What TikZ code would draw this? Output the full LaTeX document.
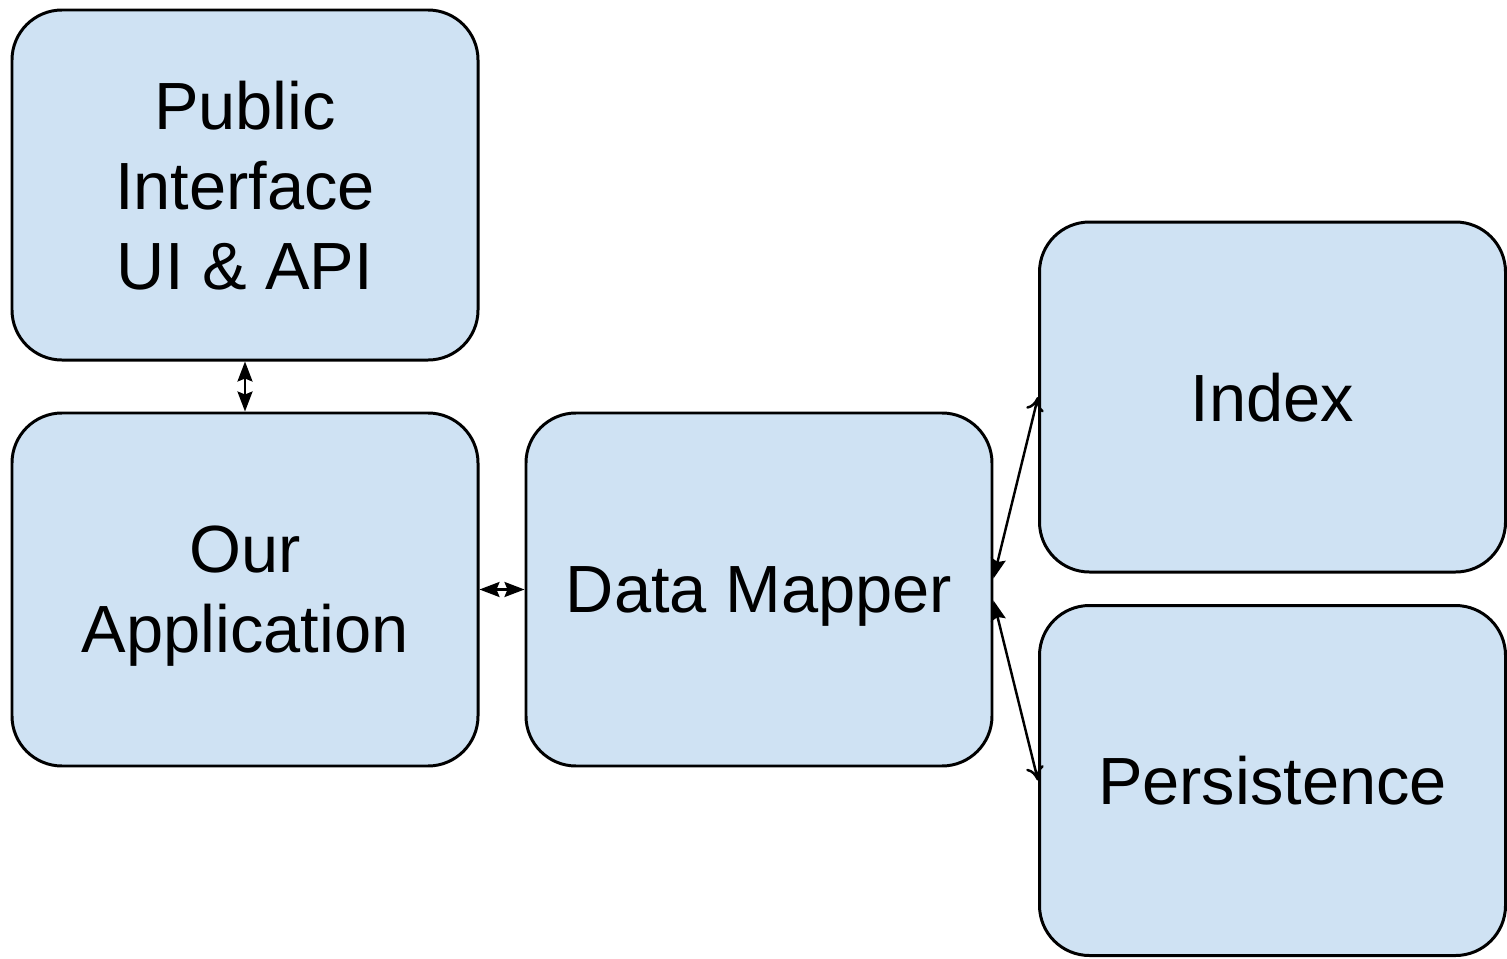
\documentclass[tikz,border=0pt]{standalone}
\usepackage{fontspec}
\setmainfont{Liberation Sans}
\usepackage{tikz}
\usetikzlibrary{positioning,arrows.meta}

\definecolor{boxblue}{HTML}{CFE2F3}

\begin{document}
\begin{tikzpicture}[node distance=0.5cm]
    \tikzstyle{block} = [rectangle, rounded corners=0.5cm, minimum width=4.66cm, minimum height=3.5cm, text depth=0pt, align=center, draw=black, line width=0.85pt, fill=boxblue, font=\fontsize{19}{22.8}\selectfont]
    \tikzstyle{link} = [line width=0.7pt, >={Stealth[length=2mm,width=1.5mm,inset=0.3mm]}]
    \useasboundingbox (0,0) rectangle (15.07,-9.58);

    \node (pub) [block] at (2.45,-1.85) {Public\\Interface\\UI \& API};
    \node (app) [block, below=0.5cm of pub, minimum height=3.53cm] {Our\\Application};
    \node (mapper) [block, right=0.45cm of app, minimum height=3.53cm] {Data Mapper};
    \node (index) [block] at (12.725,-3.97) {Index};
    \node (store) [block] at (12.725,-7.805) {Persistence};

    \draw [link, <->] (pub) -- (app);
    \draw [link, <->] (app) -- (mapper);
    \draw [link, <-{To[length=1.4mm,width=1.8mm]}] ([yshift=1.1mm]mapper.east) -- (index.west);
    \draw [link, <-{To[length=1.4mm,width=1.8mm]}] ([yshift=-1.1mm]mapper.east) -- (store.west);

\end{tikzpicture}
\end{document}
